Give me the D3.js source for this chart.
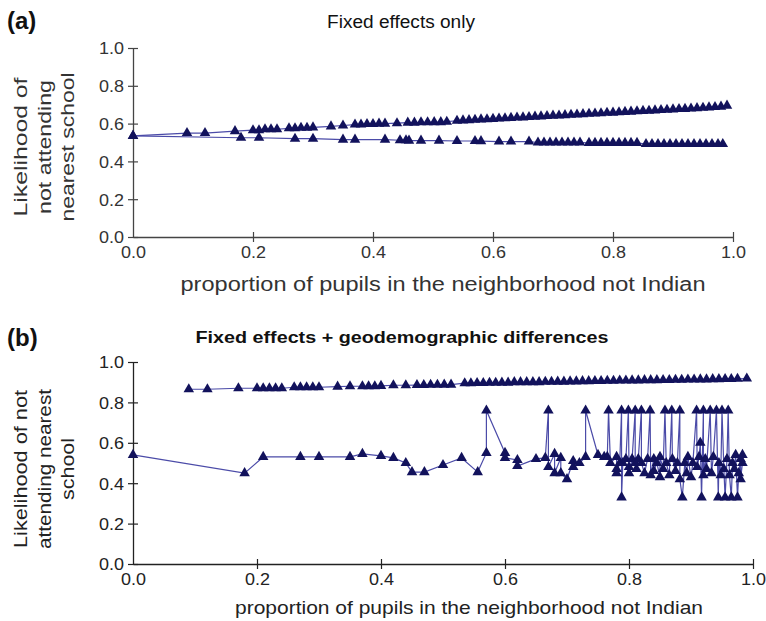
<!DOCTYPE html>
<html>
<head>
<meta charset="utf-8">
<script src="https://cdn.jsdelivr.net/npm/d3@7"></script>
<style>
  body { margin: 0; background: #fff; }
  svg { display: block; font-family: Arial, "Liberation Sans", sans-serif; }
</style>
</head>
<body>
<div id="chart"></div>
<script>
// ---- data ----
var ticks = [0, 0.2, 0.4, 0.6, 0.8, 1.0];

// panel (a): fixed effects only
var aUpperX = [0, 0.09, 0.12, 0.17, 0.20, 0.21, 0.22, 0.23, 0.24, 0.26, 0.27, 0.28, 0.29, 0.30, 0.33, 0.35, 0.37, 0.38, 0.39, 0.40, 0.41, 0.42, 0.44,
  0.458, 0.469, 0.48, 0.491, 0.502, 0.513, 0.523,
  0.54, 0.55, 0.56, 0.57, 0.58, 0.59, 0.60, 0.61, 0.62, 0.63, 0.64, 0.65, 0.66, 0.67, 0.68, 0.69, 0.70, 0.71, 0.72, 0.73, 0.74, 0.75, 0.76, 0.77,
  0.78, 0.79, 0.80, 0.81, 0.82, 0.83, 0.84, 0.85, 0.86, 0.87, 0.88, 0.89, 0.90, 0.91, 0.92, 0.93, 0.94, 0.95, 0.96, 0.97, 0.98, 0.99];
var aUpperY = [0.535, 0.55, 0.55, 0.56, 0.565, 0.565, 0.57, 0.57, 0.57, 0.575, 0.575, 0.578, 0.578, 0.58, 0.585, 0.59, 0.595, 0.595, 0.598, 0.598, 0.60, 0.60, 0.602,
  0.605, 0.605, 0.607, 0.607, 0.608, 0.608, 0.61,
  0.615, 0.617, 0.618, 0.62, 0.622, 0.623, 0.625, 0.627, 0.628, 0.63, 0.632, 0.633, 0.635, 0.637, 0.638, 0.64, 0.642, 0.643, 0.645, 0.647, 0.648, 0.65, 0.652, 0.653,
  0.655, 0.657, 0.658, 0.66, 0.662, 0.663, 0.665, 0.667, 0.668, 0.67, 0.672, 0.673, 0.675, 0.677, 0.678, 0.68, 0.682, 0.684, 0.686, 0.688, 0.69, 0.695];
var aLowerX = [0, 0.18, 0.21, 0.27, 0.30, 0.35, 0.37, 0.42, 0.445, 0.455, 0.46, 0.48, 0.51, 0.54, 0.57, 0.58, 0.61, 0.63, 0.66,
  0.675, 0.685, 0.695, 0.705, 0.715, 0.725, 0.735, 0.745, 0.76, 0.77, 0.78, 0.79, 0.80, 0.81, 0.82, 0.83, 0.84,
  0.855, 0.865, 0.875, 0.885, 0.895, 0.905, 0.915, 0.925, 0.935, 0.945, 0.955, 0.965, 0.975, 0.983];
var aLowerY = [0.535, 0.525, 0.525, 0.52, 0.52, 0.515, 0.515, 0.515, 0.512, 0.512, 0.51, 0.51, 0.51, 0.508, 0.508, 0.507, 0.505, 0.505, 0.505,
  0.50, 0.50, 0.50, 0.50, 0.50, 0.50, 0.50, 0.50, 0.498, 0.498, 0.498, 0.498, 0.498, 0.498, 0.498, 0.498, 0.498,
  0.492, 0.492, 0.492, 0.492, 0.492, 0.492, 0.492, 0.492, 0.492, 0.492, 0.492, 0.492, 0.492, 0.492];

// panel (b): fixed effects + geodemographic differences
var bUpperX = [0.09, 0.12, 0.17, 0.20, 0.21, 0.22, 0.23, 0.24, 0.26, 0.27, 0.28, 0.29, 0.30, 0.33, 0.35, 0.37, 0.38, 0.39, 0.40, 0.42, 0.44,
  0.458, 0.469, 0.48, 0.491, 0.502, 0.513,
  0.535, 0.545, 0.555, 0.565, 0.575, 0.585, 0.595, 0.605, 0.615, 0.625, 0.635, 0.645, 0.655, 0.665, 0.675, 0.685, 0.695, 0.705, 0.715, 0.725,
  0.735, 0.745, 0.755, 0.765, 0.775, 0.785, 0.795, 0.805, 0.815, 0.825, 0.835, 0.845, 0.855, 0.865, 0.875, 0.885, 0.895, 0.905, 0.915, 0.925,
  0.935, 0.945, 0.955, 0.965, 0.975, 0.99];
var bUpperY = [0.865, 0.865, 0.87, 0.87, 0.87, 0.87, 0.87, 0.87, 0.875, 0.875, 0.875, 0.875, 0.875, 0.878, 0.88, 0.88, 0.88, 0.88, 0.882, 0.885, 0.885,
  0.886, 0.886, 0.887, 0.887, 0.888, 0.888,
  0.895, 0.895, 0.896, 0.896, 0.897, 0.897, 0.898, 0.898, 0.90, 0.90, 0.90, 0.90, 0.90, 0.902, 0.902, 0.903, 0.903, 0.904, 0.904, 0.905,
  0.905, 0.906, 0.906, 0.907, 0.907, 0.908, 0.908, 0.909, 0.909, 0.91, 0.91, 0.91, 0.911, 0.911, 0.912, 0.912, 0.913, 0.913, 0.914, 0.914,
  0.915, 0.915, 0.916, 0.916, 0.917, 0.918];
var bLowerX = [0.00, 0.18, 0.21, 0.27, 0.30, 0.35, 0.37, 0.40, 0.42, 0.44, 0.45, 0.47, 0.50, 0.53, 0.556, 0.57, 0.57,
  0.60, 0.60, 0.62, 0.62, 0.65, 0.665, 0.67, 0.67, 0.68, 0.68, 0.69, 0.69, 0.70, 0.71, 0.71, 0.72, 0.73, 0.73,
  0.75, 0.76, 0.765, 0.767, 0.77,
  0.78, 0.78, 0.78, 0.785, 0.788, 0.788, 0.79, 0.795, 0.799, 0.80, 0.80, 0.805, 0.81, 0.81, 0.812, 0.815,
  0.82, 0.82, 0.825, 0.83, 0.834, 0.835, 0.84, 0.84, 0.845, 0.85, 0.85, 0.855, 0.858, 0.86, 0.865, 0.869,
  0.87, 0.875, 0.878, 0.882, 0.882, 0.886, 0.89, 0.893, 0.895, 0.90, 0.903, 0.909, 0.91, 0.913, 0.915, 0.917,
  0.92, 0.92, 0.923, 0.925, 0.931, 0.933, 0.936, 0.941, 0.944, 0.945, 0.948, 0.95, 0.953, 0.955, 0.958, 0.96,
  0.962, 0.965, 0.967, 0.97, 0.972, 0.975, 0.977, 0.98, 0.98, 0.983, 0.983];
var bLowerY = [0.54, 0.45, 0.53, 0.53, 0.53, 0.53, 0.545, 0.535, 0.525, 0.50, 0.455, 0.455, 0.49, 0.525, 0.455, 0.55, 0.76,
  0.55, 0.525, 0.515, 0.485, 0.52, 0.525, 0.76, 0.48, 0.545, 0.45, 0.525, 0.45, 0.42, 0.51, 0.48, 0.50, 0.53, 0.76,
  0.54, 0.53, 0.53, 0.76, 0.50,
  0.53, 0.47, 0.45, 0.50, 0.76, 0.33, 0.50, 0.52, 0.76, 0.48, 0.45, 0.52, 0.76, 0.50, 0.47, 0.52,
  0.76, 0.50, 0.45, 0.52, 0.76, 0.44, 0.52, 0.46, 0.50, 0.43, 0.53, 0.47, 0.76, 0.50, 0.44, 0.76,
  0.52, 0.46, 0.50, 0.76, 0.42, 0.33, 0.50, 0.45, 0.53, 0.43, 0.50, 0.76, 0.48, 0.53, 0.60, 0.33,
  0.76, 0.44, 0.52, 0.47, 0.76, 0.45, 0.53, 0.76, 0.33, 0.50, 0.44, 0.76, 0.47, 0.33, 0.52, 0.76,
  0.44, 0.33, 0.50, 0.47, 0.54, 0.33, 0.45, 0.52, 0.42, 0.50, 0.54];

var lineColor = "#4b4ba8";
var markColor = "#12125c";

var W = 766, H = 621;
var svg = d3.select("#chart").append("svg")
  .attr("width", W)
  .attr("height", H);

function zip(xs, ys) {
  return xs.map(function(v, i) { return {x: v, y: ys[i]}; });
}

// text stretched to the width it has in the figure
function label(x, y, str, size, width, color, weight, rotate) {
  var t = svg.append("text")
    .attr("transform", "translate(" + x + "," + y + ")" + (rotate ? " rotate(-90)" : ""))
    .attr("text-anchor", "middle")
    .attr("font-size", size)
    .attr("font-weight", weight || "normal")
    .attr("fill", color)
    .text(str);
  if (width) t.attr("textLength", width).attr("lengthAdjust", "spacingAndGlyphs");
  return t;
}

function panel(opt) {
  var x = d3.scaleLinear().domain([0, 1]).range([opt.left, opt.right]);
  var y = d3.scaleLinear().domain([0, 1]).range([opt.bottom, opt.top]);
  var g = svg.append("g");

  // axes with ticks crossing the line
  var yAxis = g.append("g")
    .attr("transform", "translate(" + opt.left + ",0)")
    .call(d3.axisLeft(y).tickValues(ticks).tickFormat(d3.format(".1f")).tickSizeInner(5).tickSizeOuter(0).tickPadding(4));
  yAxis.selectAll(".tick line").attr("x1", 5);
  var xAxis = g.append("g")
    .attr("transform", "translate(0," + opt.bottom + ")")
    .call(d3.axisBottom(x).tickValues(ticks).tickFormat(d3.format(".1f")).tickSizeInner(5).tickSizeOuter(0).tickPadding(4));
  xAxis.selectAll(".tick line").attr("y1", -5);
  xAxis.select(".tick line").remove();

  g.selectAll(".domain").attr("stroke", opt.axisColor).attr("stroke-width", 1.3);
  g.selectAll(".tick line").attr("stroke", opt.axisColor).attr("stroke-width", 1.2);
  g.selectAll(".tick text")
    .attr("fill", opt.textColor)
    .attr("textLength", 25)
    .attr("lengthAdjust", "spacingAndGlyphs")
    .style("font-size", "17px")
    .style("font-family", "Arial, 'Liberation Sans', sans-serif");
  yAxis.selectAll(".tick text").attr("dy", "0.35em");

  var line = d3.line().x(function(d) { return x(d.x); }).y(function(d) { return y(d.y); });
  var tri = d3.symbol().type(d3.symbolTriangle).size(48);

  opt.series.forEach(function(s) {
    g.append("path")
      .datum(s)
      .attr("fill", "none")
      .attr("stroke", lineColor)
      .attr("stroke-width", 1.2)
      .attr("d", line);
    g.append("g").selectAll("path")
      .data(s)
      .enter().append("path")
      .attr("transform", function(d) { return "translate(" + x(d.x) + "," + y(d.y) + ")"; })
      .attr("d", tri)
      .attr("fill", markColor);
  });

  // letter, title, axis titles
  svg.append("text")
    .attr("x", 7).attr("y", opt.letterY)
    .attr("font-size", 24).attr("font-weight", "bold").attr("fill", "#111")
    .text(opt.letter);
  label(opt.titleX, opt.titleY, opt.title, opt.titleSize, opt.titleW, "#111", opt.titleWeight);
  label(opt.xTitleX, opt.xTitleY, "proportion of pupils in the neighborhood not Indian", opt.xTitleSize, opt.xTitleW, opt.textColor);
  opt.yTitle.forEach(function(t, i) {
    label(opt.yTitleX + i * 23.5, opt.yTitleY, t, opt.yTitleSize, opt.yTitleW[i], opt.textColor, "normal", true);
  });
}

panel({
  left: 133, right: 733, top: 48, bottom: 237,
  series: [zip(aUpperX, aUpperY), zip(aLowerX, aLowerY)],
  axisColor: "#444", textColor: "#333",
  letter: "(a)", letterY: 29,
  title: "Fixed effects only", titleX: 401, titleY: 28, titleSize: 18, titleW: 148, titleWeight: "normal",
  xTitleX: 443, xTitleY: 291, xTitleSize: 20, xTitleW: 525,
  yTitle: ["Likelihood of", "not attending", "nearest school"], yTitleW: [139, 134, 149],
  yTitleX: 27, yTitleY: 147, yTitleSize: 19
});

panel({
  left: 133, right: 753, top: 362, bottom: 564,
  series: [zip(bUpperX, bUpperY), zip(bLowerX, bLowerY)],
  axisColor: "#222", textColor: "#222",
  letter: "(b)", letterY: 346,
  title: "Fixed effects + geodemographic differences", titleX: 402, titleY: 343, titleSize: 17, titleW: 413, titleWeight: "bold",
  xTitleX: 469, xTitleY: 614, xTitleSize: 19, xTitleW: 468,
  yTitle: ["Likelihood of not", "attending nearest", "school"], yTitleW: [158, 160, 62],
  yTitleX: 27, yTitleY: 469, yTitleSize: 19
});
</script>
</body>
</html>
